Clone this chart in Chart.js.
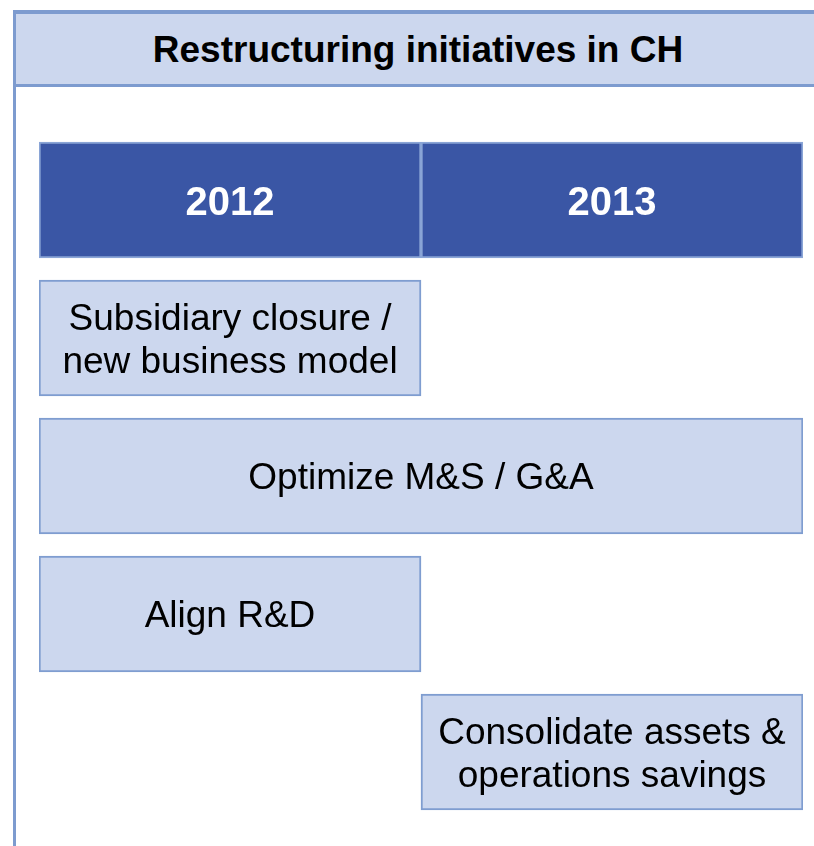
<!DOCTYPE html>
<html>
<head>
    <title>Restructuring initiatives in CH</title>
    <script src="https://cdn.jsdelivr.net/npm/chart.js"></script>
    <style>
        body {
            margin: 0;
            background: #fff;
            font-family: "Liberation Sans", Arial, sans-serif;
        }
        .frame-left {
            position: absolute;
            left: 13px;
            top: 10px;
            width: 3px;
            height: 900px;
            background: #7d9bcf;
        }
        .header {
            position: absolute;
            left: 13px;
            top: 10px;
            width: 900px;
            height: 70px;
            background: #ccd7ee;
            border-top: 4px solid #7d9bcf;
            border-bottom: 3px solid #7d9bcf;
            border-left: 3px solid #7d9bcf;
        }
        .title {
            position: absolute;
            left: 0;
            top: 15px;
            width: 836px;
            height: 70px;
            line-height: 70px;
            text-align: center;
            font-size: 37px;
            font-weight: bold;
            color: #000;
        }
        #ganttChart {
            position: absolute;
            left: 0;
            top: 0;
        }
    </style>
</head>
<body>
    <div class="frame-left"></div>
    <div class="header"></div>
    <div class="title">Restructuring initiatives in CH</div>

    <canvas id="ganttChart" width="814" height="846"></canvas>

    <script>
        // years shown as dark header boxes
        const years = [2012, 2013];

        // initiatives, one row each, with start / end year
        const initiatives = [
            ['Subsidiary closure /', 'new business model'],
            ['Optimize M&S / G&A'],
            ['Align R&D'],
            ['Consolidate assets &', 'operations savings']
        ];
        const startYear = [2012, 2012, 2012, 2013];
        const endYear = [2013, 2014, 2013, 2014];

        const rowKeys = ['years'].concat(initiatives.map(l => l.join(' ')));

        const points = [];
        years.forEach(y => {
            points.push({ x: [y, y + 1], y: 'years', text: [String(y)], header: true });
        });
        initiatives.forEach((lines, i) => {
            points.push({ x: [startYear[i], endYear[i]], y: rowKeys[i + 1], text: lines, header: false });
        });

        const labelPlugin = {
            id: 'barLabels',
            afterDatasetsDraw(chart) {
                const ctx = chart.ctx;
                const meta = chart.getDatasetMeta(0);
                ctx.save();
                ctx.textAlign = 'center';
                ctx.textBaseline = 'alphabetic';
                meta.data.forEach((bar, i) => {
                    const p = points[i];
                    const cx = (bar.x + bar.base) / 2;
                    const cy = bar.y;
                    if (p.header) {
                        ctx.fillStyle = '#ffffff';
                        ctx.font = 'bold 40px "Liberation Sans", Arial, sans-serif';
                        ctx.fillText(p.text[0], cx, cy + 15);
                    } else {
                        ctx.fillStyle = '#000000';
                        ctx.font = '37px "Liberation Sans", Arial, sans-serif';
                        const n = p.text.length;
                        p.text.forEach((line, k) => {
                            ctx.fillText(line, cx, cy + 13 + (k - (n - 1) / 2) * 43);
                        });
                    }
                });
                ctx.restore();
            }
        };

        const ctx = document.getElementById('ganttChart').getContext('2d');
        const chart = new Chart(ctx, {
            type: 'bar',
            data: {
                labels: rowKeys,
                datasets: [{
                    label: 'Initiatives',
                    data: points,
                    backgroundColor: c => (points[c.dataIndex] && points[c.dataIndex].header) ? '#3a56a5' : '#ccd7ee',
                    borderColor: c => (points[c.dataIndex] && points[c.dataIndex].header) ? '#8aa5d6' : '#7f9dd0',
                    borderWidth: 2,
                    borderSkipped: false,
                    barThickness: 116
                }]
            },
            options: {
                indexAxis: 'y',
                responsive: false,
                animation: false,
                layout: {
                    padding: { left: 39, right: 11, top: 131, bottom: 25 }
                },
                scales: {
                    x: { type: 'linear', min: 2012, max: 2014, display: false },
                    y: { type: 'category', display: false }
                },
                plugins: {
                    legend: { display: false },
                    tooltip: { enabled: false }
                }
            },
            plugins: [labelPlugin]
        });
    </script>
</body>
</html>
